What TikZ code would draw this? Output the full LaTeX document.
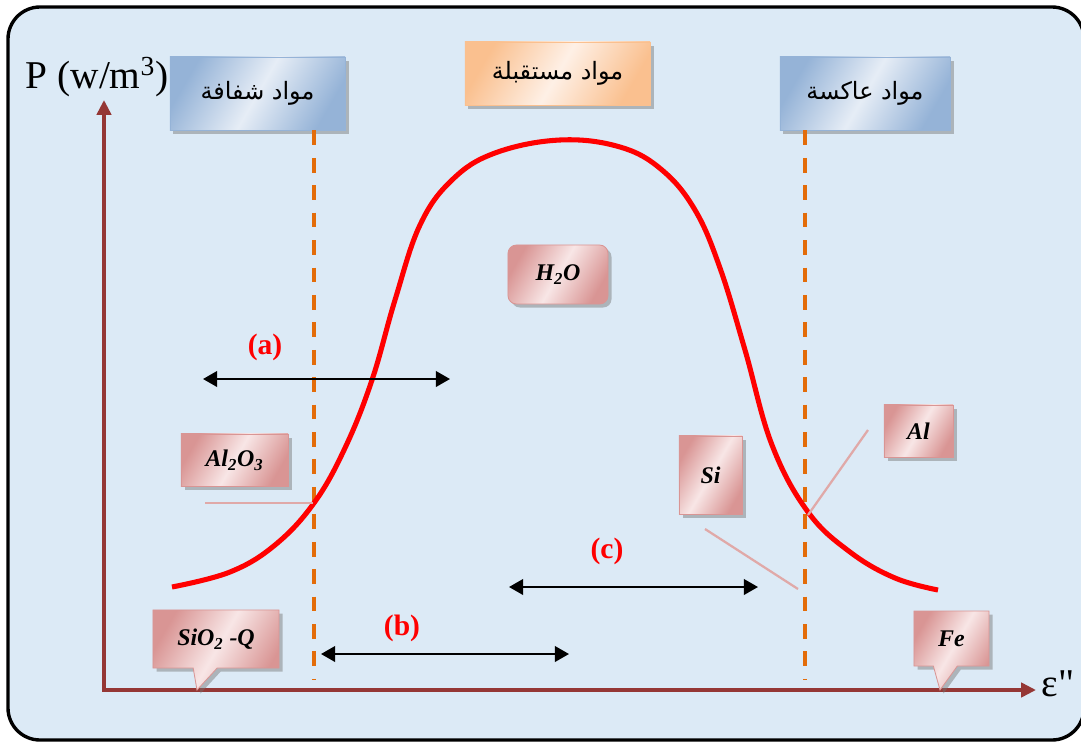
\documentclass[tikz,border=0pt]{standalone}
\usepackage{fontspec}
\setmainfont{Liberation Serif}
\newfontfamily\arabicfont[Script=Arabic]{DejaVu Sans}
\TeXXeTstate=1
\usetikzlibrary{arrows.meta, shapes.callouts, shadows}
\definecolor{bgblue}{HTML}{DCEAF6}
\definecolor{boxblue}{HTML}{95B3D7}
\definecolor{boxbluel}{HTML}{E6EDF6}
\definecolor{boxorange}{HTML}{FAC08F}
\definecolor{boxorangel}{HTML}{FEF0E6}
\definecolor{boxpink}{HTML}{D99594}
\definecolor{boxpinkl}{HTML}{F8E6E6}
\definecolor{axisred}{HTML}{953735}
\definecolor{guideorange}{HTML}{E36C09}
\definecolor{linkpink}{HTML}{E0A9A8}

\begin{document}
\begin{tikzpicture}[x=0.025cm, y=-0.025cm,
  panel/.style={rectangle, draw=#1, line width=0.6pt,
                left color=#1, right color=#1, middle color=#1l, shading angle=60,
                drop shadow={shadow xshift=2.5pt, shadow yshift=-2.5pt, fill=black!55, opacity=0.45}},
  arab/.style={font=\arabicfont\fontsize{17}{20}\selectfont, text=black},
  chem/.style={panel=boxpink, font=\bfseries\itshape\fontsize{17}{20}\selectfont, text=black},
  tag/.style={chem, rectangle callout, callout pointer width=0.6cm},
  axis/.style={line width=2.6pt, axisred, {Triangle[length=10.5pt, width=10pt]}-{Triangle[length=10.5pt, width=10pt]}},
  guide/.style={line width=2.4pt, guideorange, dash pattern=on 10.5pt off 9pt},
  bell/.style={line width=3.6pt, red},
  link/.style={line width=1.6pt, linkpink},
  span/.style={line width=1.6pt, black, {Triangle[length=10pt, width=11pt]}-{Triangle[length=10pt, width=11pt]}},
  lbl/.style={font=\bfseries\fontsize{21}{24}\selectfont, text=red},
]
  \useasboundingbox (0,0) rectangle (1081,744);
  % Frame
  \draw[line width=2.4pt, fill=bgblue, rounded corners=0.8cm] (8,7) rectangle (1084,740);

  % Material classes
  \node[panel=boxblue, arab, minimum width=4.375cm, minimum height=1.825cm] (transp) at (257.5,93.5) {\raisebox{4pt}{\beginR مواد شفافة\endR}};
  \node[panel=boxorange, arab, minimum width=4.625cm, minimum height=1.575cm] (absorb) at (557.5,73.5) {\beginR مواد مستقبلة\endR};
  \node[panel=boxblue, arab, minimum width=4.25cm, minimum height=1.825cm] (reflect) at (865,93.5) {\raisebox{4pt}{\beginR مواد عاكسة\endR}};

  % Axes
  \coordinate (ytip) at (104,100);
  \coordinate (xtip) at (1036,690);
  \draw[axis] (ytip) |- (xtip);
  \node[font=\fontsize{28}{30}\selectfont] (ylab) at (97,77) {P (w/m\textsuperscript{3})};
  \node[font=\fontsize{28}{30}\selectfont] (xlab) at (1058,684) {ε\textquotedbl};

  % Limits
  \coordinate (g1) at (314,680);
  \coordinate (g2) at (805,680);
  \draw[guide] (transp.south -| g1) -- (g1);
  \draw[guide] (reflect.south -| g2) -- (g2);

  % Absorption curve
  \draw[bell] plot[smooth, tension=0.65] coordinates {(172,587) (230,572) (275,545) (314,503)
    (345,448) (372,380) (395,300) (420,225) (452,180) (495,153) (560,140) (620,147)
    (662,170) (695,210) (720,268) (745,350) (772,445) (808,512) (850,552) (895,578) (938,590)};

  % Ranges
  \coordinate (a1) at (203,379);
  \coordinate (a2) at (450,379);
  \coordinate (b1) at (321,654);
  \coordinate (b2) at (569,654);
  \coordinate (c1) at (509,587);
  \coordinate (c2) at (758,587);
  \draw[span] (a1) -- (a2);
  \draw[span] (b1) -- (b2);
  \draw[span] (c1) -- (c2);
  \node[lbl] (la) at (265,347) {(a)};
  \node[lbl] (lb) at (402,628) {(b)};
  \node[lbl] (lc) at (607,551) {(c)};

  % Links to the curve
  \coordinate (aloxfree) at (205,503);
  \coordinate (aloxend) at (313,503);
  \coordinate (alufree) at (868,430);
  \coordinate (aluend) at (808,515);
  \coordinate (sifree) at (705,529);
  \coordinate (siend) at (798,589);
  \draw[link] (aloxfree) -- (aloxend);
  \draw[link] (alufree) -- (aluend);
  \draw[link] (sifree) -- (siend);

  % Materials
  \node[chem, rounded corners=6pt, minimum width=2.5cm, minimum height=1.475cm] (water) at (558,274.5) {H\textsubscript{2}O};
  \node[chem, minimum width=2.675cm, minimum height=1.3cm] (alox) at (234.5,460) {Al\textsubscript{2}O\textsubscript{3}};
  \node[chem, minimum width=1.575cm, minimum height=1.95cm] (si) at (710.5,475) {Si};
  \node[chem, minimum width=1.725cm, minimum height=1.3cm] (alu) at (918.5,431) {Al};
  \coordinate (qtip) at (197,690);
  \coordinate (fetip) at (940,690);
  \node[tag, minimum width=3.15cm, minimum height=1.45cm, callout absolute pointer={(qtip)}] (quartz) at (216,639) {SiO\textsubscript{2} -Q};
  \node[tag, minimum width=1.875cm, minimum height=1.375cm, callout absolute pointer={(fetip)}] (fe) at (951.5,638.5) {Fe};
\end{tikzpicture}
\end{document}
